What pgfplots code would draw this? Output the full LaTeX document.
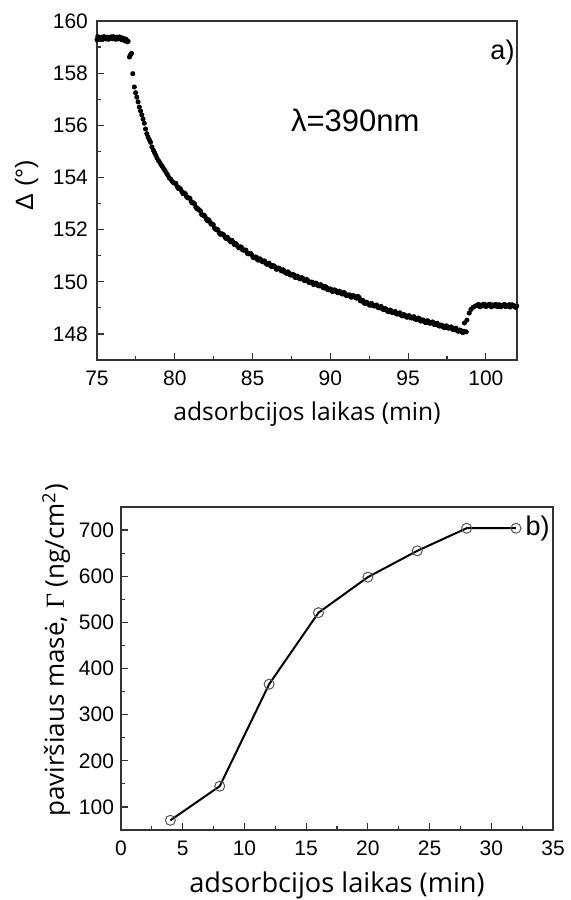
\documentclass[border=0pt]{standalone}
\usepackage{pgfplots}
\pgfplotsset{compat=1.18}
\usepackage{fontspec}
\setmainfont{Liberation Sans}
\newfontfamily\labfont{Open Sans}
\newfontfamily\serifG{Liberation Serif}
\definecolor{axgray}{HTML}{333333}
\definecolor{mkgray}{HTML}{555555}
\pgfplotsset{
  myax/.style={
    scale only axis,
    anchor=south west,
    tick align=inside,
    xtick pos=bottom, ytick pos=left,
    minor x tick num=1, minor y tick num=1,
    major tick length=3.5pt, minor tick length=2pt,
    axis line style={line width=0.6pt, color=axgray},
    every tick/.style={axgray, line width=0.6pt},
    tick label style={font=\fontsize{10.5}{12}\selectfont},
    /pgf/number format/assume math mode=true,
    xticklabel style={yshift=-2pt},
    xlabel style={at={(axis description cs:0.5,0)}, anchor=north, inner sep=0pt, yshift=-20.5pt},
    ylabel style={anchor=base, inner sep=0pt},
  },
  dots/.style={only marks, mark=*, mark size=1.05pt, mark options={fill=black, draw=black}},
}
\begin{document}
\begin{tikzpicture}
\useasboundingbox (0,0) rectangle (285pt,-450pt);
% ---------------- panel a ----------------
\begin{axis}[myax,
  at={(48.5pt,-180pt)}, width=210pt, height=169.5pt,
  xmin=75, xmax=102, ymin=147, ymax=160,
  xtick={75,80,...,100}, ytick={148,150,...,160},
  yticklabel style={xshift=-1pt},
  xlabel={\labfont\fontsize{12.3}{14}\selectfont adsorbcijos laikas (min)},
  ylabel={\fontsize{12.5}{14}\selectfont Δ (°)},
  ylabel style={at={(axis description cs:-0.152,0.515)}},
]
\addplot[dots] coordinates {
(75.00,159.28)(75.10,159.35)(75.20,159.30)(75.30,159.38)(75.40,159.33)(75.50,159.36)(75.60,159.31)
(75.70,159.37)(75.80,159.34)(75.90,159.39)(76.00,159.32)(76.10,159.36)(76.20,159.30)(76.30,159.38)
(76.40,159.35)(76.50,159.33)(76.60,159.28)(76.70,159.30)(76.80,159.24)(76.90,159.27)(77.00,159.22)
(77.09,158.62)(77.15,158.70)(77.22,158.76)(77.30,157.98)(77.40,157.47)(77.48,157.25)(77.56,157.08)
(77.64,156.90)(77.72,156.70)(77.80,156.55)(77.88,156.40)(77.96,156.24)(78.04,156.08)(78.12,155.86)
(78.20,155.68)(78.28,155.55)(78.36,155.45)(78.44,155.35)(78.53,155.17)(78.62,155.05)(78.70,154.95)
(78.78,154.85)(78.86,154.74)(78.95,154.65)(79.04,154.57)(79.12,154.49)(79.20,154.42)(79.30,154.32)
(79.38,154.26)(79.48,154.15)(79.56,154.08)(79.65,153.98)(79.74,153.93)(79.83,153.85)(79.92,153.80)
(80.00,153.78)(80.15,153.65)(80.30,153.60)(80.45,153.46)(80.60,153.41)(80.75,153.27)(80.90,153.22)
(81.05,153.08)(81.20,153.03)(81.35,152.86)(81.50,152.80)(81.65,152.71)(81.80,152.55)(81.95,152.50)
(82.10,152.34)(82.25,152.31)(82.40,152.22)(82.55,152.06)(82.70,152.02)(82.85,151.88)(83.00,151.84)
(83.15,151.79)(83.30,151.66)(83.45,151.65)(83.60,151.53)(83.75,151.52)(83.90,151.47)(84.05,151.35)
(84.20,151.34)(84.35,151.23)(84.50,151.22)(84.65,151.10)(84.80,151.09)(84.95,151.03)(85.10,150.92)
(85.25,150.94)(85.40,150.83)(85.55,150.84)(85.70,150.79)(85.85,150.70)(86.00,150.71)(86.15,150.62)
(86.30,150.63)(86.45,150.57)(86.60,150.49)(86.75,150.50)(86.90,150.41)(87.05,150.40)(87.20,150.32)
(87.35,150.34)(87.50,150.26)(87.65,150.27)(87.80,150.17)(87.95,150.18)(88.10,150.11)(88.25,150.12)
(88.40,150.04)(88.55,150.05)(88.70,149.97)(88.85,149.98)(89.00,149.90)(89.15,149.91)(89.30,149.84)
(89.45,149.85)(89.60,149.76)(89.75,149.78)(89.90,149.69)(90.05,149.71)(90.20,149.64)(90.35,149.66)
(90.50,149.58)(90.65,149.61)(90.80,149.53)(90.95,149.55)(91.10,149.47)(91.25,149.49)(91.40,149.42)
(91.55,149.44)(91.70,149.37)(91.85,149.40)(92.00,149.27)(92.15,149.20)(92.30,149.22)(92.45,149.14)
(92.60,149.16)(92.75,149.08)(92.90,149.09)(93.05,149.02)(93.20,149.04)(93.35,148.96)(93.50,148.97)
(93.65,148.89)(93.80,148.91)(93.95,148.83)(94.10,148.84)(94.25,148.77)(94.40,148.79)(94.55,148.72)
(94.70,148.74)(94.85,148.67)(95.00,148.69)(95.15,148.62)(95.30,148.64)(95.45,148.57)(95.60,148.59)
(95.75,148.52)(95.90,148.54)(96.05,148.47)(96.20,148.50)(96.35,148.42)(96.50,148.44)(96.65,148.37)
(96.80,148.40)(96.95,148.32)(97.10,148.34)(97.25,148.27)(97.40,148.30)(97.55,148.23)(97.70,148.25)
(97.85,148.18)(98.00,148.20)(98.15,148.13)(98.30,148.15)(98.45,148.08)(98.60,148.10)(98.74,148.08)
(98.62,148.42)(98.78,148.53)(98.93,148.80)(99.04,148.94)(99.18,149.02)(99.32,149.07)(99.45,149.10)
(99.58,149.06)(99.70,149.11)(99.82,149.08)(99.94,149.12)(100.06,149.07)(100.18,149.10)(100.30,149.06)
(100.42,149.11)(100.54,149.08)(100.66,149.12)(100.78,149.06)(100.90,149.10)(101.02,149.07)(101.14,149.11)
(101.26,149.05)(101.38,149.09)(101.50,149.12)(101.62,149.06)(101.74,149.09)(101.86,149.04)(101.98,149.07)
};
\addplot[dots] coordinates {
(75.05,159.40)(75.15,159.31)(75.25,159.36)(75.35,159.29)(75.45,159.40)(75.55,159.33)(75.65,159.38)
(75.75,159.30)(75.85,159.37)(75.95,159.34)(76.05,159.40)(76.15,159.32)(76.25,159.37)(76.35,159.31)
(76.45,159.39)(76.55,159.30)(76.65,159.35)(76.75,159.27)(76.85,159.31)(76.95,159.20)
(80.075,153.77)(80.225,153.58)(80.375,153.55)(80.525,153.38)(80.675,153.38)(80.825,153.22)(80.975,153.20)
(81.125,153.02)(81.275,152.99)(81.425,152.80)(81.575,152.75)(81.725,152.58)(81.875,152.56)(82.025,152.40)
(82.175,152.38)(82.325,152.21)(82.475,152.19)(82.625,152.01)(82.775,151.98)(82.925,151.82)(83.075,151.83)
(83.225,151.71)(83.375,151.71)(83.525,151.57)(83.675,151.59)(83.825,151.43)(83.975,151.43)(84.125,151.30)
(84.275,151.33)(84.425,151.21)(84.575,151.21)(84.725,151.07)(84.875,151.09)(85.025,150.94)(85.175,150.95)
(85.325,150.84)(85.475,150.88)(85.625,150.77)(85.775,150.80)(85.925,150.67)(86.075,150.71)(86.225,150.58)
(86.375,150.60)(86.525,150.48)(86.675,150.53)(86.825,150.43)(86.975,150.46)(87.125,150.34)(87.275,150.38)
(87.425,150.26)(87.575,150.28)(87.725,150.17)(87.875,150.22)(88.025,150.12)(88.175,150.16)(88.325,150.05)
(88.475,150.09)(88.625,149.97)(88.775,149.99)(88.925,149.89)(89.075,149.95)(89.225,149.85)(89.375,149.89)
(89.525,149.78)(89.675,149.82)(89.825,149.70)(89.975,149.73)(90.125,149.63)(90.275,149.69)(90.425,149.60)
(90.575,149.64)(90.725,149.54)(90.875,149.59)(91.025,149.47)(91.175,149.50)(91.325,149.41)(91.475,149.47)
(91.625,149.39)(91.775,149.44)(91.925,149.27)(92.075,149.29)(92.225,149.17)(92.375,149.20)(92.525,149.10)
(92.675,149.16)(92.825,149.07)(92.975,149.11)(93.125,149.00)(93.275,149.05)(93.425,148.93)(93.575,148.96)
(93.725,148.85)(93.875,148.91)(94.025,148.82)(94.175,148.86)(94.325,148.76)(94.475,148.81)(94.625,148.69)
(94.775,148.73)(94.925,148.64)(95.075,148.70)(95.225,148.61)(95.375,148.66)(95.525,148.55)(95.675,148.61)
(95.825,148.49)(95.975,148.53)(96.125,148.43)(96.275,148.50)(96.425,148.41)(96.575,148.46)(96.725,148.36)
(96.875,148.41)(97.025,148.30)(97.175,148.33)(97.325,148.24)(97.475,148.31)(97.625,148.22)(97.775,148.27)
(97.925,148.16)(98.075,148.22)(98.225,148.10)(98.375,148.14)(98.525,148.05)
(99.51,149.13)(99.64,149.04)(99.76,149.10)(99.88,149.14)(100.00,149.05)(100.12,149.11)(100.24,149.14)
(100.36,149.04)(100.48,149.09)(100.60,149.13)(100.72,149.05)(100.84,149.12)(100.96,149.04)(101.08,149.10)
(101.20,149.13)(101.32,149.06)(101.44,149.10)(101.56,149.03)(101.68,149.12)(101.80,149.08)(101.92,149.02)
};
\node[font=\fontsize{15.5}{18}\selectfont] at (axis cs:91.6,156.2) {λ=390nm};
\node[font=\fontsize{13.5}{15}\selectfont, anchor=east, inner sep=0pt] at (rel axis cs:0.995,0.908) {a)};
\end{axis}
% ---------------- panel b ----------------
\begin{axis}[myax,
  at={(60.5pt,-415pt)}, width=216pt, height=161.5pt,
  xmin=0, xmax=35, ymin=50, ymax=750,
  xtick={0,5,...,35}, ytick={100,200,...,700},
  xlabel={\labfont\fontsize{13.6}{15}\selectfont adsorbcijos laikas (min)},
  ylabel={\labfont\fontsize{13}{15}\selectfont paviršiaus masė, {\serifG Γ} (ng/cm\textsuperscript{2})},
  ylabel style={at={(axis description cs:-0.132,0.556)}},
]
\addplot[line width=1pt, black, mark=o, mark size=2.5pt,
  mark options={draw=mkgray, fill=white, line width=0.5pt}] coordinates {
(4,71)(8,145)(12,366)(16,521)(20,598)(24,655)(28,704)(32,704)
};
\node[font=\fontsize{13.5}{15}\selectfont, anchor=east, inner sep=0pt] at (rel axis cs:0.993,0.932) {b)};
\end{axis}
\end{tikzpicture}
\end{document}
